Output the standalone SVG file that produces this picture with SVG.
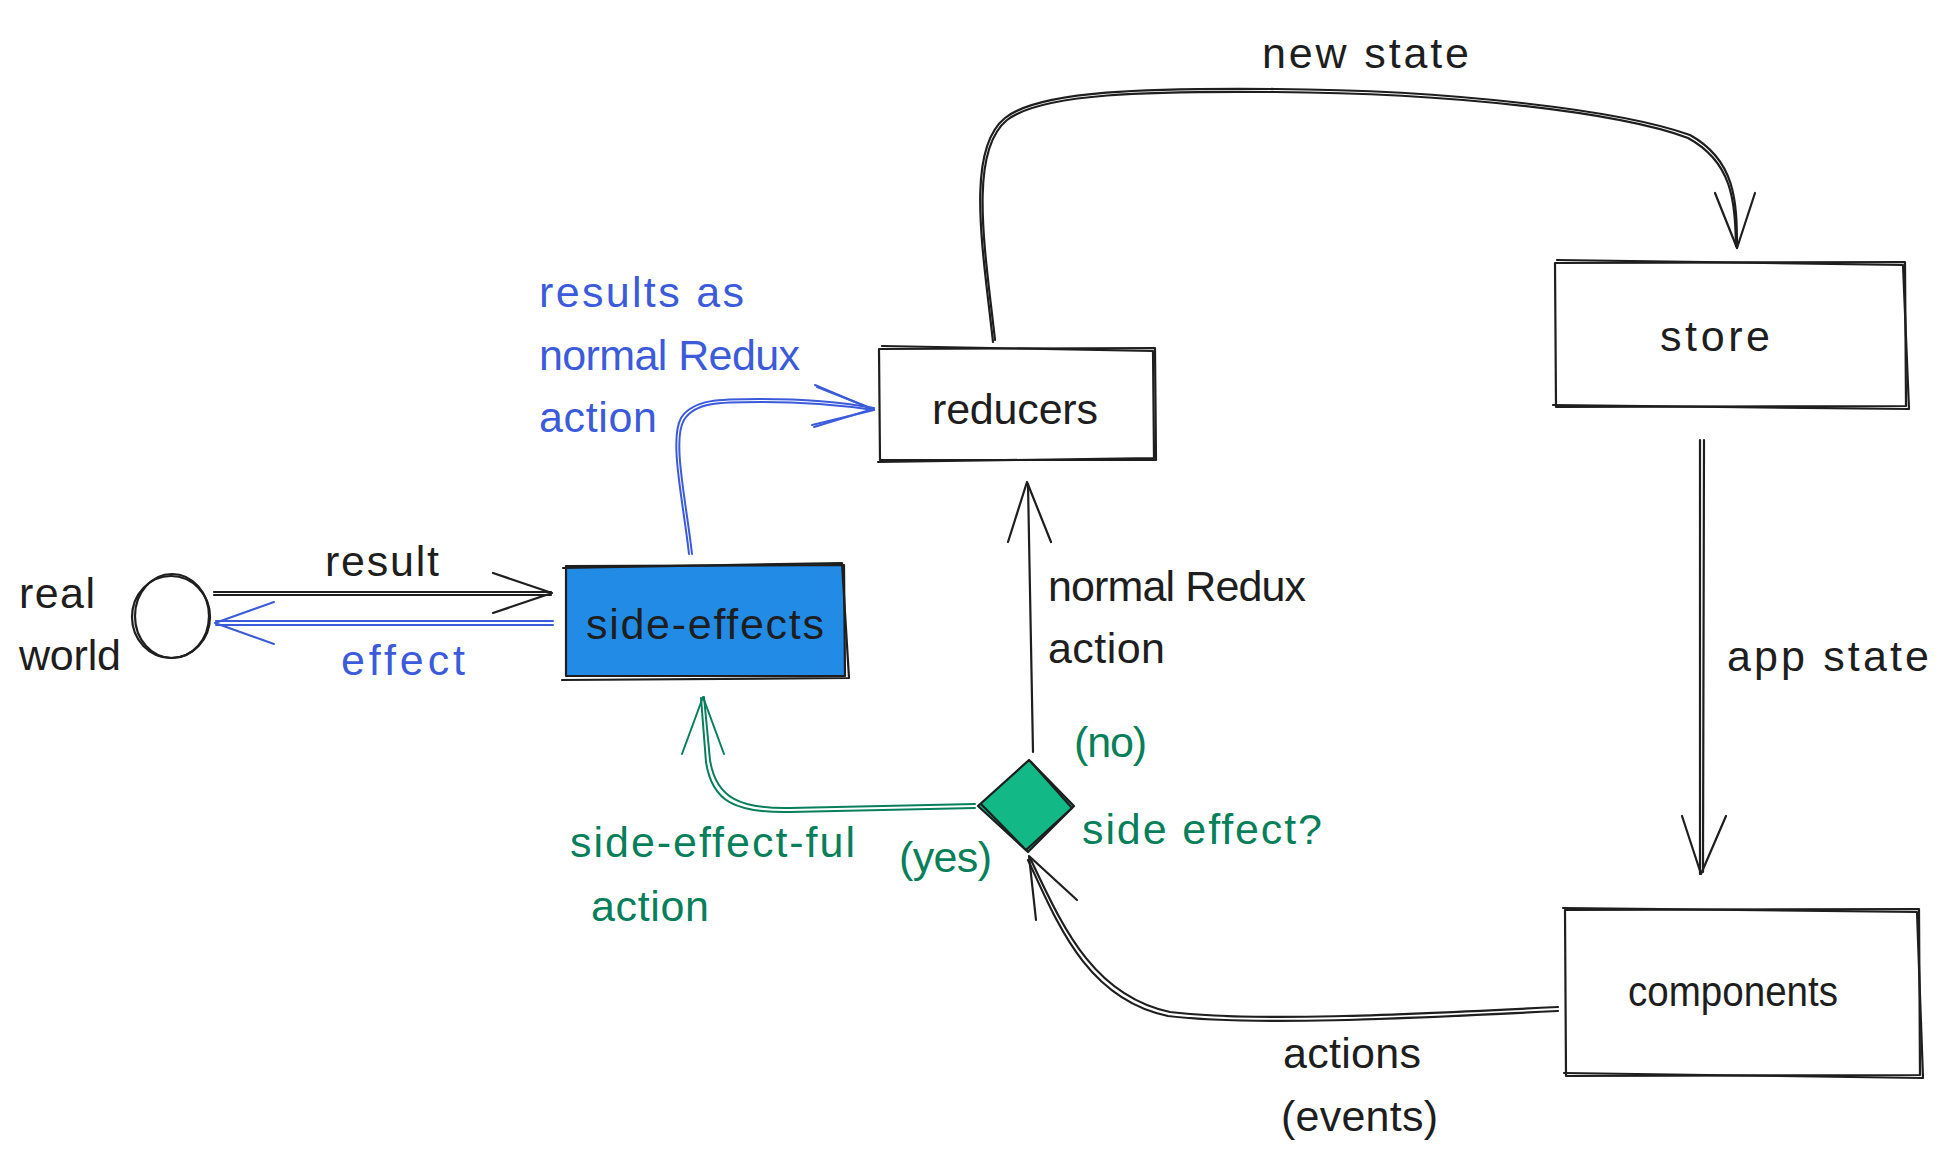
<svg xmlns="http://www.w3.org/2000/svg" width="1944" height="1168" viewBox="0 0 1944 1168">
<style>
text{font-family:"Liberation Sans","Open Sans",sans-serif;font-size:43px;fill:#1e1e1e}
.b{fill:#3b5bdb}
.g{fill:#087f5b}
.k{fill:none;stroke:#1e1e1e;stroke-width:2.2;stroke-linecap:round;stroke-linejoin:round}
.bl{fill:none;stroke:#3b5bdb;stroke-width:2;stroke-linecap:round;stroke-linejoin:round}
.gl{fill:none;stroke:#087f5b;stroke-width:2;stroke-linecap:round;stroke-linejoin:round}
.m{text-anchor:middle}
</style>
<rect width="1944" height="1168" fill="#ffffff"/>

<g id="connectors">
  <!-- new state -->
  <path class="k" d="M993 342 C983 250 965 150 1005 118 C1040 90 1150 88 1275 89 C1450 90 1620 110 1690 135 C1735 160 1737 200 1737 248"/>
  <path class="k" d="M995 340 C985 250 968 152 1007 120 C1042 93 1150 91 1275 92 C1450 93 1618 112 1688 138 C1732 162 1735 200 1736 246"/>
  <path class="k" d="M1715 193 L1737 248 L1755 193"/>
  <!-- app state -->
  <path class="k" d="M1700 440 L1700 874 M1704 440 L1703 872"/>
  <path class="k" d="M1682 816 L1701 874 L1726 816"/>
  <!-- actions -->
  <path class="k" d="M1558 1007 C1400 1015 1250 1022 1170 1012 C1090 995 1060 920 1030 858"/>
  <path class="k" d="M1558 1011 C1400 1019 1250 1026 1168 1016 C1086 999 1057 922 1028 860"/>
  <path class="k" d="M1036 920 L1029 856 L1077 900"/>
  <!-- normal Redux action -->
  <path class="k" d="M1033 752 L1028 484"/>
  <path class="k" d="M1008 542 L1027 482 L1051 542"/>
  <!-- side-effect-ful action -->
  <path class="gl" d="M975 804 L790 808 C740 809 716 798 710 760 L704 697"/>
  <path class="gl" d="M975 808 L790 812 C736 813 712 802 706 762 L701 698"/>
  <path class="gl" d="M682 754 L703 697 L724 754"/>
  <!-- results as normal Redux action -->
  <path class="bl" d="M692 554 C686 500 672 440 684 420 C695 402 720 402 760 402 C800 402 840 405 874 410"/>
  <path class="bl" d="M689 554 C683 500 669 440 681 418 C693 399 720 399 760 399 C800 399 840 402 874 408"/>
  <path class="bl" d="M815 385 L874 410 L812 425"/>
  <path class="bl" d="M817 387 L873 409 L814 427"/>
  <!-- result -->
  <path class="k" d="M214 592 L551 592 M214 595 L551 595"/>
  <path class="k" d="M493 573 L552 593 L493 613"/>
  <!-- effect -->
  <path class="bl" d="M553 621 L216 621 M553 625 L216 625"/>
  <path class="bl" d="M274 602 L215 623 L274 644"/>
</g>

<g id="reducers">
  <path class="k" d="M879 349 L1155 348 L1156 460 L880 460 Z"/>
  <path class="k" d="M882 346 L1153 351 L1154 458 L878 462"/>
  <text class="m" x="1015" y="424" textLength="166">reducers</text>
</g>

<g id="store">
  <path class="k" d="M1555 263 L1905 262 L1906 406 L1556 407 Z"/>
  <path class="k" d="M1557 260 L1903 265 L1909 409 L1553 405"/>
  <text class="m" x="1715" y="351" textLength="110">store</text>
</g>

<g id="components">
  <path class="k" d="M1565 910 L1919 909 L1920 1075 L1566 1076 Z"/>
  <path class="k" d="M1563 908 L1917 912 L1923 1078 L1564 1073"/>
  <text class="m" x="1733" y="1006" textLength="210" lengthAdjust="spacingAndGlyphs">components</text>
</g>

<g id="side-effects">
  <rect x="565" y="566" width="279" height="110" fill="#228be6"/>
  <path class="k" d="M566 566 L844 565 L845 676 L566 676 Z"/>
  <path class="k" d="M563 568 L842 563 L849 678 L562 680"/>
  <text class="m" x="705" y="639" textLength="238">side-effects</text>
</g>

<g id="real-world">
  <ellipse cx="171" cy="617" rx="39" ry="41" class="k"/>
  <ellipse cx="172" cy="616" rx="37" ry="42" class="k"/>
  <text x="19" y="608" textLength="76">real</text>
  <text x="19" y="670" textLength="102">world</text>
</g>

<g id="decision">
  <path d="M1029 760 L1074 806 L1028 852 L978 806 Z" fill="#12b886" stroke="#1e1e1e" stroke-width="2.2" stroke-linejoin="round"/>
  <path class="k" d="M1031 762 L1072 808 L1026 850 L981 804"/>
</g>

<g id="labels">
  <text x="1262" y="68" textLength="207">new state</text>
  <text class="b" x="539" y="307" textLength="205">results as</text>
  <text class="b" x="539" y="370" textLength="261">normal Redux</text>
  <text class="b" x="539" y="432" textLength="118">action</text>
  <text x="325" y="576" textLength="114">result</text>
  <text class="b" x="341" y="675" textLength="124">effect</text>
  <text x="1048" y="601" textLength="258">normal Redux</text>
  <text x="1048" y="663" textLength="117">action</text>
  <text x="1727" y="671" textLength="202">app state</text>
  <text class="g" x="1074" y="757" textLength="73">(no)</text>
  <text class="g" x="1082" y="844" textLength="240">side effect?</text>
  <text class="g" x="899" y="872" textLength="93">(yes)</text>
  <text class="g" x="570" y="857" textLength="285">side-effect-ful</text>
  <text class="g" x="591" y="921" textLength="118">action</text>
  <text x="1283" y="1068" textLength="138">actions</text>
  <text x="1281" y="1131" textLength="157">(events)</text>
</g>
</svg>
